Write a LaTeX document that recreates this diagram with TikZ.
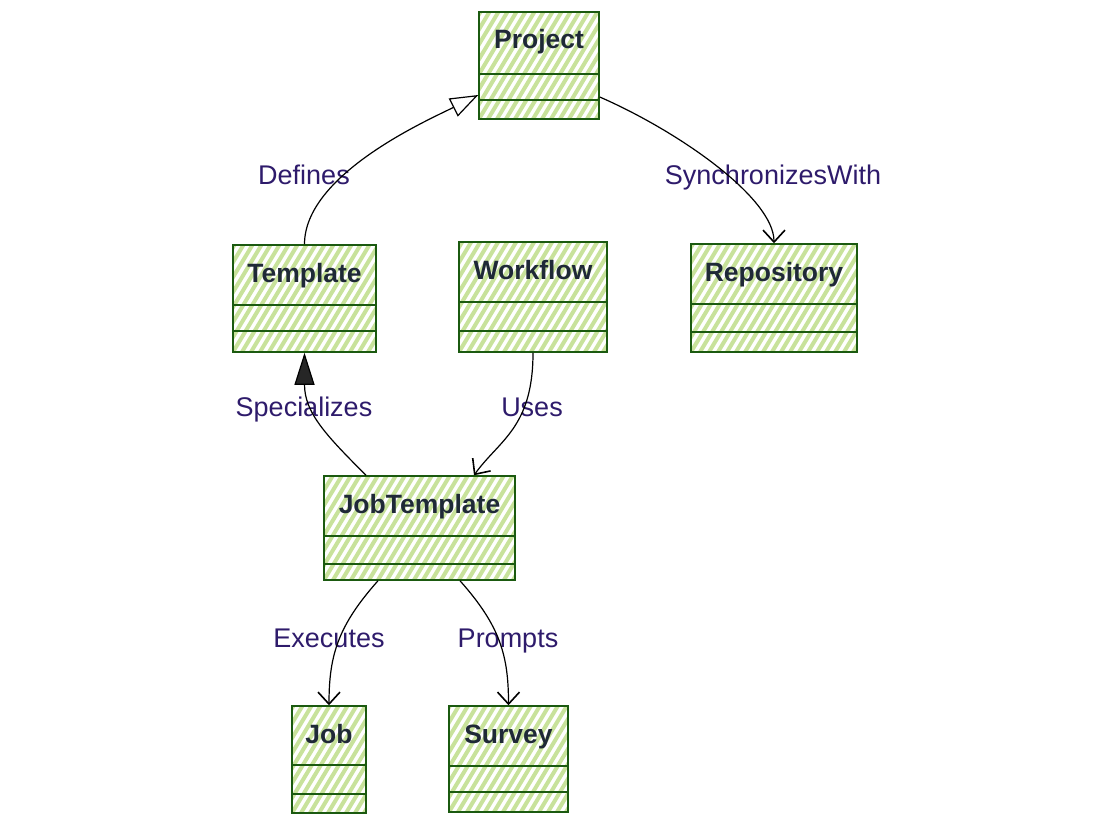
\documentclass[tikz,border=0pt]{standalone}
\usepackage{fontspec}
\setmainfont{Liberation Sans}
\usetikzlibrary{arrows.meta,calc}
\definecolor{hatchc}{HTML}{C8E29B}
\definecolor{edgec}{HTML}{1B5A10}
\definecolor{titlec}{HTML}{1F2937}
\definecolor{labc}{HTML}{2E1B6B}
\tikzset{
  hatchfill/.style={path picture={
    \foreach \k in {-14,...,24} {
      \draw[hatchc, line width=4pt] ($(path picture bounding box.south west)+(\k*9,0)$) -- ++(130,-216);
    }}},
  cls/.style={draw=edgec, line width=1.5pt, inner sep=0pt, hatchfill},
  divl/.style={draw=edgec, line width=1.5pt},
  ttl/.style={font=\fontsize{26.5}{30}\selectfont\bfseries, text=titlec, anchor=base, inner sep=0pt},
  lab/.style={font=\fontsize{27}{30}\selectfont, text=labc, anchor=base, inner sep=0pt},
  conn/.style={draw=black, line width=1.2pt},
  openarr/.style={-{Straight Barb[length=12pt,width=22pt,line width=1.6pt]}},
  inherit/.style={-{Triangle[open,length=28pt,width=20pt,line width=1.2pt]}},
  filledtri/.style={-{Triangle[length=32pt,width=20pt,fill=black!85]}}
}
\newcommand{\umlbox}[8]{%
  \node[cls, minimum width={(#4-#2)*1pt}, minimum height={(#5-#3)*1pt}] (#1) at ({(#2+#4)/2},{(#3+#5)/2}) {};
  \node[ttl] (#1-t) at ({(#2+#4)/2},{#3+37}) {#6};
  \draw[divl] ({#2},{#7}) -- ({#4},{#7});
  \draw[divl] ({#2},{#8}) -- ({#4},{#8});
}
\begin{document}
\begin{tikzpicture}[x=1pt,y=-1pt]
\useasboundingbox (0,0) rectangle (1115,826);
\umlbox{project}{479}{12}{599}{119}{Project}{74}{100}
\umlbox{template}{233}{245}{376}{352}{Template}{305}{331}
\umlbox{workflow}{459}{242}{607}{352}{Workflow}{302}{331}
\umlbox{repository}{691}{244}{857}{352}{Repository}{304}{332}
\umlbox{jobtemplate}{324}{476}{515}{580}{JobTemplate}{536}{564}
\umlbox{job}{292}{706}{366}{813}{Job}{765}{794}
\umlbox{survey}{449}{706}{568}{812}{Survey}{766}{792}

\node[lab] (lDefines) at (304,185) {Defines};
\node[lab] (lSync) at (773,185) {SynchronizesWith};
\node[lab] (lSpec) at (304,416) {Specializes};
\node[lab] (lUses) at (532,416) {Uses};
\node[lab] (lExec) at (329,647) {Executes};
\node[lab] (lPrompts) at (508,647) {Prompts};

\draw[conn,inherit] (template.north) .. controls +(0,-70) and +(-50,25) .. ([yshift=-29.5pt]project.west);
\draw[conn,openarr] ([yshift=-31.5pt]project.east) .. controls +(80,35) and +(0,-45) .. (repository.north);
\draw[conn,filledtri] ([xshift=-53.5pt]jobtemplate.north) .. controls +(-40,-40) and +(0,60) .. (template.south);
\draw[conn,openarr] (workflow.south) .. controls +(0,75) and +(25,-35) .. ([xshift=54.5pt]jobtemplate.north);
\draw[conn,openarr] ([xshift=-41.5pt]jobtemplate.south) .. controls +(-40,45) and +(0,-50) .. (job.north);
\draw[conn,openarr] ([xshift=40.5pt]jobtemplate.south) .. controls +(40,45) and +(0,-50) .. (survey.north);
\end{tikzpicture}
\end{document}
